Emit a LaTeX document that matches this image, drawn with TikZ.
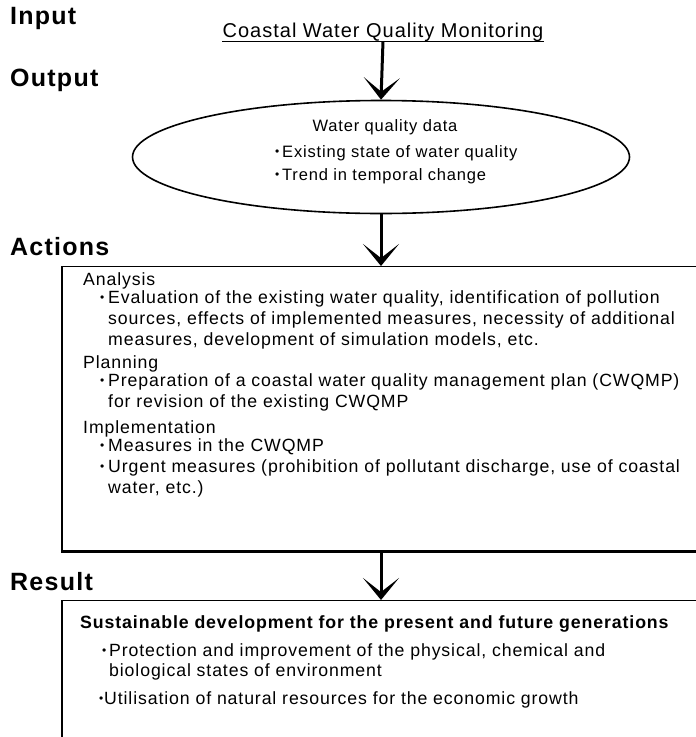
\documentclass[tikz,border=0pt]{standalone}
\usepackage{fontspec}
\setmainfont{Liberation Sans}[LetterSpace=5]
\usetikzlibrary{arrows.meta,shapes.geometric}
\begin{document}
\begin{tikzpicture}[x=1pt,y=-1pt,
  lbl/.style={font=\fontsize{25}{29}\selectfont\bfseries, anchor=west, inner sep=0},
  body/.style={font=\fontsize{17.7}{20}\selectfont, anchor=west, inner sep=0},
  oval/.style={font=\fontsize{16.5}{20}\selectfont, anchor=west, inner sep=0},
  ovalc/.style={font=\fontsize{16.5}{20}\selectfont, inner sep=0},
  head/.style={font=\fontsize{17.75}{20}\selectfont\bfseries, anchor=west, inner sep=0},
  dot/.style={font=\fontsize{12}{14}\selectfont, anchor=west, inner sep=0},
  flow/.style={line width=3pt, -{Stealth[length=22pt,width=36pt,inset=14pt]}},
  edge/.style={line width=0.9pt},
  frame/.style={line width=2.6pt},
  spacer/.style={inner sep=0, anchor=north west}]
\useasboundingbox (0,0) rectangle (696,737);

% stage labels
\node[lbl] (lin)  at (10,18)  {Input};
\node[lbl] (lout) at (10,80)  {Output};
\node[lbl] (lact) at (10,247) {Actions};
\node[lbl] (lres) at (10,582) {Result};

% input
\node[font=\fontsize{20}{24}\selectfont, inner sep=0] (title) at (383,32) {Coastal Water Quality Monitoring};
\draw[line width=1.2pt] ([yshift=-4pt]title.base west) -- ([yshift=-4pt]title.base east);
\coordinate (ul) at ([yshift=-4pt]title.base);

% output ellipse
\node[ellipse, draw, line width=1.6pt, minimum width=497, minimum height=113, inner sep=0] (ell) at (381,157) {};
\node[ovalc] (e0) at (385,127) {Water quality data};
\node[dot]  (e1b) at (275,153) {\textbullet};
\node[oval] (e1)  at (282,153) {Existing state of water quality};
\node[dot]  (e2b) at (275,176) {\textbullet};
\node[oval] (e2)  at (282,176) {Trend in temporal change};

% actions box (runs past the right edge)
\node[spacer, minimum width=680, minimum height=285] (act) at (62,266) {};
\draw[edge] (act.north west) -- (act.north east);
\draw[frame] (act.north west) -- (act.south west) -- (act.south east);

\node[body] (a0)  at (83,281) {Analysis};
\node[dot]  (a1b) at (100,299) {\textbullet};
\node[body] (a1)  at (108,299) {Evaluation of the existing water quality, identification of pollution};
\node[body] (a2)  at (108,320) {sources, effects of implemented measures, necessity of additional};
\node[body] (a3)  at (108,341) {measures, development of simulation models, etc.};
\node[body] (p0)  at (83,364) {Planning};
\node[dot]  (p1b) at (100,382) {\textbullet};
\node[body] (p1)  at (108,382) {Preparation of a coastal water quality management plan (CWQMP)};
\node[body] (p2)  at (108,403) {for revision of the existing CWQMP};
\node[body] (i0)  at (83,429) {Implementation};
\node[dot]  (i1b) at (100,447) {\textbullet};
\node[body] (i1)  at (108,447) {Measures in the CWQMP};
\node[dot]  (i2b) at (100,468) {\textbullet};
\node[body] (i2)  at (108,468) {Urgent measures (prohibition of pollutant discharge, use of coastal};
\node[body] (i3)  at (108,489) {water, etc.)};

% result box (runs past the right and bottom edges)
\node[spacer, minimum width=680, minimum height=160] (res) at (62,600) {};
\draw[edge] (res.north west) -- (res.north east);
\draw[frame] (res.north west) -- (res.south west);

\node[head] (r0)  at (80,624) {Sustainable development for the present and future generations};
\node[dot]  (r1b) at (102,652) {\textbullet};
\node[body] (r1)  at (109,652) {Protection and improvement of the physical, chemical and};
\node[body] (r2)  at (109,672) {biological states of environment};
\node[dot]  (r3b) at (99,700) {\textbullet};
\node[body] (r3)  at (104,700) {Utilisation of natural resources for the economic growth};

% flow arrows
\draw[flow] (ul) -- (ell.north);
\draw[flow] (ell.south) -- (ell.south |- act.north);
\draw[flow] (ell.south |- act.south) -- (ell.south |- res.north);
\end{tikzpicture}
\end{document}
